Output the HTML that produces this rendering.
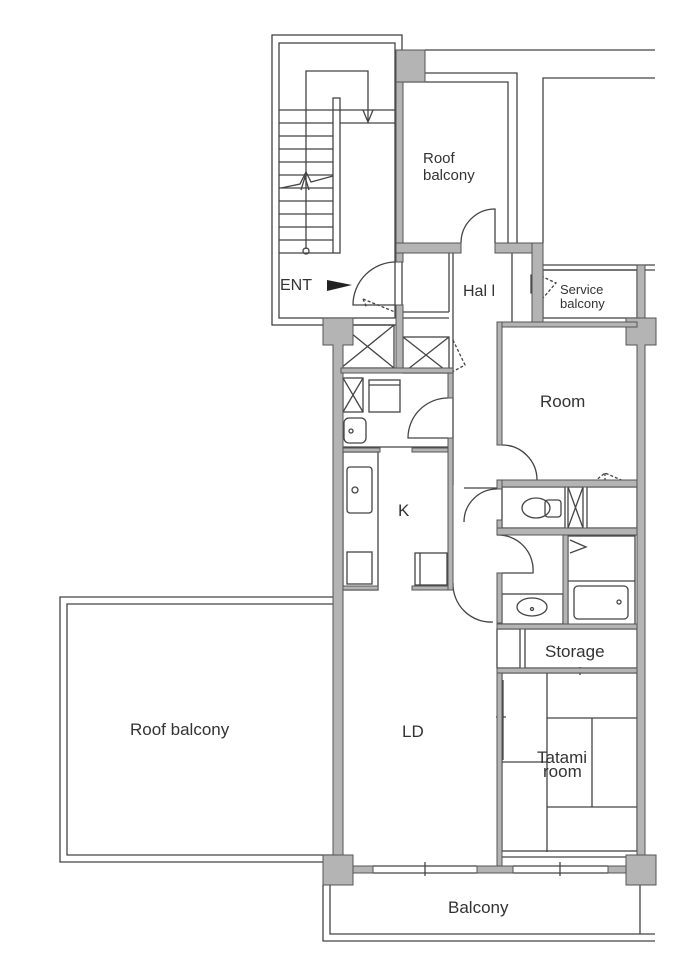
<!DOCTYPE html>
<html><head><meta charset="utf-8"><style>
html,body{margin:0;padding:0;background:#fff}
svg{display:block}
text{font-family:"Liberation Sans",sans-serif;fill:#333}
</style></head><body>
<svg width="680" height="959" viewBox="0 0 680 959" xmlns="http://www.w3.org/2000/svg">
<g fill="none" stroke="#444" stroke-width="1.3">
<rect x="272" y="35" width="130" height="290"/>
<rect x="279" y="43" width="116" height="275"/>
<path d="M279 110H395M340 123H395M279 123H333M279 136H333M279 149H333M279 162H333M279 175H333M279 188H333M279 201H333M279 214H333M279 227H333M279 240H333M279 253H333"/>
<rect x="333" y="98" width="7" height="155"/>
<path d="M306 249V71H368V122M363 110L368 122L373 110"/>
<circle cx="306" cy="251" r="3"/>
<path d="M281 188L300 184L306 172L311 182L333 176M301 190L305 177L309 190"/>
<path d="M425 50H655M425 73H517V243M402 82H508V243M543 243V78H655M543 265H655M543 270H655"/>
<path d="M461 243V243A34 34 0 0 1 495 209V243"/>
<rect x="543" y="270" width="94" height="48"/>
<path d="M531 275H541V293H531Z"/>
<path d="M541 276L556 283L543 298" stroke-dasharray="3,2"/>
<path d="M449 253V312M453 253V485M512 253V322M403 312H449M403 318H449"/>
<rect x="403" y="337" width="46" height="36"/>
<path d="M403 337L449 373M449 337L403 373"/>
<path d="M453 340L465 365L452 372" stroke-dasharray="3,2"/>
<rect x="341" y="325" width="53" height="43"/>
<path d="M341 325L394 368M394 325L341 368"/>
<path d="M396 262A43 43 0 0 0 353 305H396"/>
<path d="M363 299L367 308M363 299L395 312" stroke-dasharray="3,2"/>
<rect x="343" y="378" width="20" height="34"/>
<path d="M343 378L363 412M363 378L343 412"/>
<rect x="369" y="380" width="31" height="32"/>
<path d="M369 385H400"/>
<rect x="344" y="418" width="22" height="25" rx="5"/>
<circle cx="351" cy="431" r="2"/>
<path d="M448 398A40 40 0 0 0 408 438H448"/>
<path d="M343 447H448"/>
<path d="M416 448H446" stroke-dasharray="3,2"/>
<rect x="343" y="452" width="35" height="138"/>
<rect x="347" y="467" width="25" height="46" rx="3"/>
<circle cx="355" cy="490" r="3"/>
<rect x="347" y="552" width="25" height="32"/>
<rect x="415" y="553" width="32" height="32"/>
<path d="M420 553V585"/>
<path d="M453 583A38 38 0 0 0 493 622"/>
<path d="M502 445A35 35 0 0 1 537 480"/>
<path d="M590 485L605 473L633 485M605 473V485" stroke-dasharray="3,2"/>
<rect x="502" y="487" width="63" height="41"/>
<ellipse cx="536" cy="508" rx="14" ry="10"/>
<rect x="545" y="500" width="16" height="17" rx="3"/>
<rect x="568" y="487" width="15" height="41"/>
<path d="M568 487L583 528M583 487L568 528"/>
<rect x="587" y="487" width="50" height="41"/>
<path d="M497 489A33 33 0 0 0 464 522V522M464 488H497"/>
<path d="M497 535A35 35 0 0 1 533 573H502"/>
<rect x="502" y="594" width="61" height="30"/>
<ellipse cx="532" cy="607" rx="15" ry="9"/>
<circle cx="532" cy="609" r="1.5"/>
<rect x="568" y="536" width="67" height="89"/>
<path d="M568 581H635M570 540L586 547L570 553"/>
<rect x="574" y="586" width="54" height="33" rx="4"/>
<circle cx="619" cy="602" r="2"/>
<rect x="497" y="629" width="23" height="39"/>
<rect x="525" y="629" width="112" height="39"/>
<path d="M524 671H600M580 667V675M612 671H636"/>
<rect x="502" y="673" width="135" height="178"/>
<path d="M547 673V852M547 718H637M547 807H637M592 718V807M502 762H547"/>
<path d="M498 680V760M503 680V760M496 717H506"/>
<path d="M335 705V805M340 705V805M333 755H342"/>
<path d="M335 470V540M340 470V540"/>
<path d="M502 857H637"/>
<path d="M373 866H477M373 873H477M425 862V876M513 866H608M513 873H608M560 862V876"/>
<path d="M333 597H60V862H333M333 604H67V855H333"/>
<path d="M330 885V934H640V885M323 885V941H655M330 934H655"/>
</g>
<g fill="#b4b4b4" stroke="#555" stroke-width="1">
<rect x="396" y="50" width="29" height="32"/>
<rect x="396" y="82" width="7" height="180"/>
<rect x="396" y="305" width="7" height="68"/>
<rect x="396" y="243" width="65" height="10"/>
<rect x="495" y="243" width="48" height="10"/>
<rect x="532" y="243" width="11" height="79"/>
<rect x="637" y="265" width="8" height="60"/>
<path d="M323 318H353V345H343V860H333V345H323Z"/>
<rect x="341" y="368" width="112" height="5"/>
<path d="M626 318H656V345H645V858H637V345H626Z"/>
<rect x="448" y="373" width="5" height="25"/>
<rect x="448" y="438" width="5" height="152"/>
<rect x="343" y="448" width="37" height="4"/>
<rect x="412" y="448" width="36" height="4"/>
<rect x="343" y="586" width="35" height="4"/>
<rect x="412" y="586" width="36" height="4"/>
<rect x="497" y="322" width="140" height="5"/>
<rect x="497" y="322" width="5" height="123"/>
<rect x="497" y="480" width="140" height="7"/>
<rect x="497" y="480" width="5" height="9"/>
<rect x="497" y="520" width="5" height="15"/>
<rect x="497" y="528" width="140" height="7"/>
<rect x="563" y="535" width="5" height="90"/>
<rect x="497" y="573" width="5" height="50"/>
<rect x="497" y="624" width="140" height="5"/>
<rect x="497" y="668" width="140" height="5"/>
<rect x="497" y="673" width="5" height="194"/>
<path d="M323 855H353V885H323Z"/>
<path d="M626 855H656V885H626Z"/>
<rect x="353" y="866" width="20" height="7"/>
<rect x="477" y="866" width="36" height="7"/>
<rect x="608" y="866" width="18" height="7"/>
</g>
<path d="M327 280L352 285L327 291Z" fill="#222"/>
<g font-size="17">
<text x="280" y="290" font-size="16">ENT</text>
<text x="423" y="163" font-size="15">Roof</text>
<text x="423" y="180" font-size="15">balcony</text>
<text x="463" y="296" font-size="16">Hal l</text>
<text x="560" y="294" font-size="13">Service</text>
<text x="560" y="308" font-size="13">balcony</text>
<text x="540" y="407">Room</text>
<text x="398" y="516">K</text>
<text x="545" y="657">Storage</text>
<text x="130" y="735">Roof balcony</text>
<text x="402" y="737">LD</text>
<text x="537" y="763">Tatami</text>
<text x="543" y="777">room</text>
<text x="448" y="913">Balcony</text>
</g>
</svg>
</body></html>
